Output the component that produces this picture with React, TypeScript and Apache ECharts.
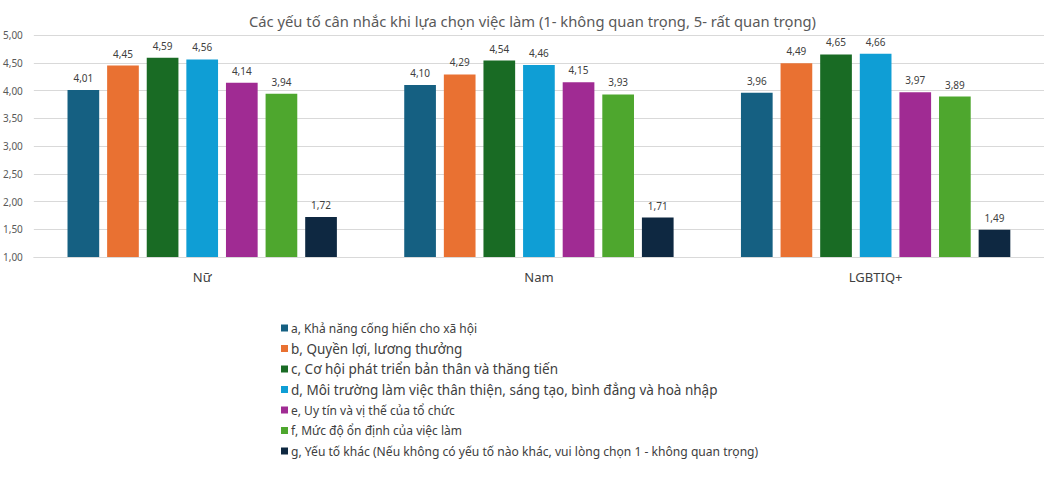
import React, { useEffect, useRef } from "react";
import * as echarts from "echarts";

const categories = ["Nữ", "Nam", "LGBTIQ+"];
const seriesNames = [
  "a, Khả năng cống hiến cho xã hội",
  "b, Quyền lợi, lương thưởng",
  "c, Cơ hội phát triển bản thân và thăng tiến",
  "d, Môi trường làm việc thân thiện, sáng tạo, bình đẳng và hoà nhập",
  "e, Uy tín và vị thế của tổ chức",
  "f, Mức độ ổn định của việc làm",
  "g, Yếu tố khác (Nếu không có yếu tố nào khác, vui lòng chọn 1 - không quan trọng)",
];
const valuesA = [4.01, 4.1, 3.96];
const valuesB = [4.45, 4.29, 4.49];
const valuesC = [4.59, 4.54, 4.65];
const valuesD = [4.56, 4.46, 4.66];
const valuesE = [4.14, 4.15, 3.97];
const valuesF = [3.94, 3.93, 3.89];
const valuesG = [1.72, 1.71, 1.49];
const colors = ["#156082", "#E97132", "#196B24", "#0F9ED5", "#A02B93", "#4EA72E", "#0E2841"];
const legendFontSizes = [12, 13.5, 13.5, 13.5, 12, 12, 12.1];

const FONT = "Noto Sans";
const fmt = (v: number) => v.toFixed(2).replace(".", ",");

export default function App() {
  const ref = useRef<HTMLDivElement>(null);
  useEffect(() => {
    if (!ref.current) return;
    const chart = echarts.init(ref.current, null, { renderer: "svg" });
    const allValues = [valuesA, valuesB, valuesC, valuesD, valuesE, valuesF, valuesG];
    chart.setOption({
      animation: false,
      textStyle: { fontFamily: FONT },
      title: {
        text: "Các yếu tố cân nhắc khi lựa chọn việc làm (1- không quan trọng, 5- rất quan trọng)",
        left: 244,
        top: 8,
        textStyle: { fontFamily: FONT, fontSize: 14.75, fontWeight: "normal", color: "#595959" },
      },
      grid: { left: 33, top: 35, width: 1026, height: 222, containLabel: false },
      legend: {
        orient: "vertical",
        left: 276,
        top: 313,
        itemWidth: 7,
        itemHeight: 7,
        itemGap: 0.5,
        icon: "rect",
        data: seriesNames.map((n, i) => ({
          name: n,
          textStyle: { fontSize: legendFontSizes[i], lineHeight: 20, height: 20, color: "#404040", fontFamily: FONT },
        })),
        textStyle: { color: "#404040", fontFamily: FONT, padding: [0, 0, 0, -2] },
      },
      xAxis: {
        type: "category",
        data: categories,
        axisTick: { show: false },
        axisLine: { lineStyle: { color: "#d9d9d9" } },
        axisLabel: { color: "#404040", fontSize: 13, margin: 13, fontFamily: FONT },
      },
      yAxis: {
        type: "value",
        min: 1,
        max: 5,
        interval: 0.5,
        axisLine: { show: false },
        axisTick: { show: false },
        splitLine: { lineStyle: { color: "#d9d9d9" } },
        axisLabel: { color: "#595959", fontSize: 10, margin: 11, formatter: (v: number) => fmt(v), fontFamily: FONT },
      },
      series: seriesNames.map((n, i) => ({
        name: n,
        type: "bar",
        data: allValues[i],
        barGap: "25%",
        barCategoryGap: "20%",
        itemStyle: { color: colors[i] },
        label: {
          show: true,
          position: "top",
          distance: 7,
          fontSize: 10,
          color: "#404040",
          fontFamily: FONT,
          formatter: (p: any) => fmt(p.value),
        },
      })),
    });
    return () => chart.dispose();
  }, []);
  return (
    <div
      ref={ref}
      style={{ position: "fixed", left: 0, top: 0, width: 1044, height: 481, background: "#fff" }}
    />
  );
}
